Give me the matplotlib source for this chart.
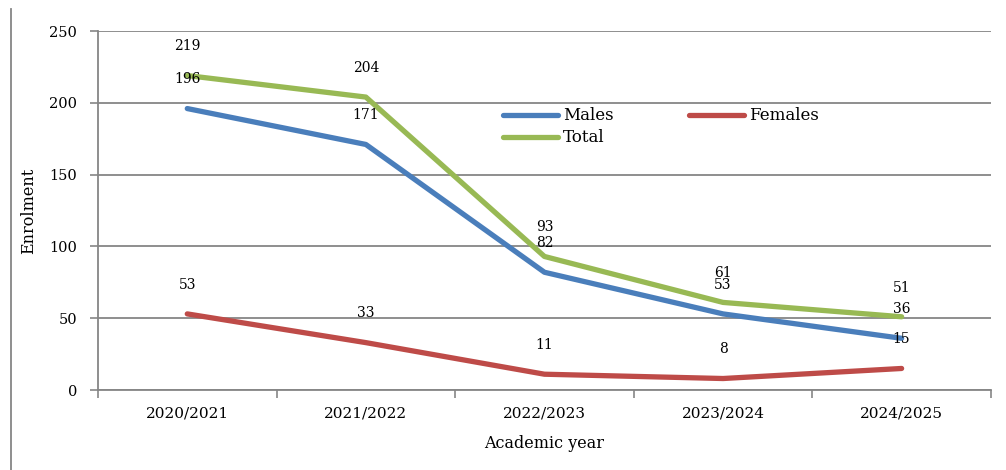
import numpy as np
import matplotlib.pyplot as plt
from matplotlib.lines import Line2D

years = ['2020/2021', '2021/2022', '2022/2023', '2023/2024', '2024/2025']
males = [196, 171, 82, 53, 36]
females = [53, 33, 11, 8, 15]
total = [219, 204, 93, 61, 51]

plt.rcParams['font.family'] = ['DejaVu Serif']

fig = plt.figure(figsize=(10.06, 4.70), dpi=100)
ax = fig.add_axes([0.0974, 0.1702, 0.8876, 0.7638])

x = np.arange(len(years))
series = [
    ('Males', males, '#4A7EBB'),
    ('Total', total, '#98B954'),
    ('Females', females, '#BE4B48'),
]
handles = {}
for name, vals, col in series:
    ln, = ax.plot(x, vals, color=col, lw=3.8, solid_capstyle='round',
                  solid_joinstyle='round', zorder=3)
    handles[name] = ln
    for xi, v in zip(x, vals):
        ax.annotate(str(v), (xi, v), xytext=(0, 21), textcoords='offset points',
                    ha='center', va='center', fontsize=10, zorder=4)

ax.set_xlim(-0.5, len(years) - 0.5)
ax.set_ylim(0, 250)
ax.set_yticks(range(0, 251, 50))
ax.set_xticks(np.arange(-0.5, len(years), 1.0))
ax.set_xticklabels([])
ax.set_xticks(x, minor=True)
ax.set_xticklabels(years, minor=True)
ax.tick_params(axis='x', which='major', length=6, color='#868686', width=1.2)
ax.tick_params(axis='x', which='minor', length=0, pad=12, labelsize=11)
ax.tick_params(axis='y', length=6, color='#868686', width=1.2, labelsize=10.5, pad=9)

ax.grid(axis='y', color='#868686', lw=1.3)
ax.set_axisbelow(True)
for s in ['top', 'right']:
    ax.spines[s].set_visible(False)
for s in ['left', 'bottom']:
    ax.spines[s].set_color('#868686')
    ax.spines[s].set_linewidth(1.3)

ax.set_xlabel('Academic year', fontsize=11.5, labelpad=10)
ax.set_ylabel('Enrolment', fontsize=11.5, labelpad=9)

ax.legend([handles['Males'], handles['Total'], handles['Females']],
          ['Males', 'Total', 'Females'], ncol=2, frameon=False, fontsize=12,
          loc='upper left', bbox_to_anchor=(0.4535, 0.787), handlelength=3.3,
          handletextpad=0.3, columnspacing=4.5, labelspacing=0.3,
          borderaxespad=0, borderpad=0)

fig.add_artist(Line2D([0.0105, 0.0105], [0.0, 0.98], color='#868686', lw=1.3))

fig.savefig('out.png', dpi=100)
